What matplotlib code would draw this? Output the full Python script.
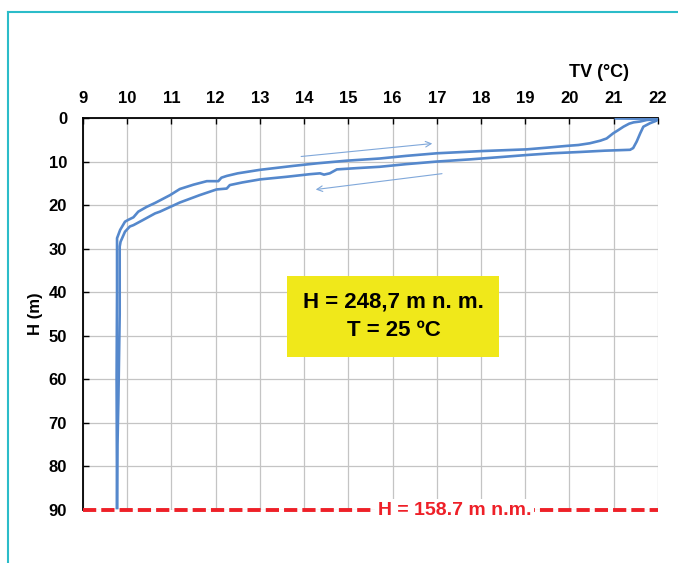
import matplotlib.pyplot as plt
from matplotlib.lines import Line2D

# temperature profile, first cast (surface -> bottom)
temp_down = [21.97, 21.75, 21.6, 21.45, 21.35, 21.22, 21.1, 20.99, 20.84, 20.7,
             20.58, 20.46, 20.2, 19.94, 19.5, 19.03, 18.0, 17.0, 16.3, 15.71,
             14.96, 14.3, 13.75, 13.0, 12.5, 12.25, 12.13, 12.06, 11.8, 11.5,
             11.19, 10.97, 10.63, 10.44, 10.25, 10.14, 10.02, 9.95, 9.84, 9.77,
             9.77, 9.76, 9.77]
depth_down = [0.3, 0.45, 0.8, 1.0, 1.3, 2.0, 2.8, 3.5, 4.7, 5.2,
              5.5, 5.8, 6.2, 6.4, 6.8, 7.2, 7.6, 8.1, 8.7, 9.3,
              9.8, 10.4, 11.0, 11.9, 12.7, 13.3, 13.7, 14.5, 14.5, 15.3,
              16.3, 17.7, 19.5, 20.4, 21.5, 22.8, 23.4, 23.8, 25.7, 27.6,
              40.0, 60.0, 89.5]

# second cast
temp_up = [21.05, 21.5, 22.0, 21.97, 21.82, 21.67, 21.6, 21.52, 21.44, 21.37,
           20.8, 20.24, 19.6, 19.03, 18.4, 17.75, 17.0, 16.3, 15.71, 15.2,
           14.74, 14.58, 14.45, 14.36, 14.13, 13.6, 13.0, 12.6, 12.32, 12.25,
           12.02, 11.64, 11.19, 10.74, 10.63, 10.36, 10.14, 10.06, 9.95, 9.85,
           9.83, 9.83, 9.8, 9.78, 9.77]
depth_up = [0.1, 0.15, 0.1, 0.6, 1.2, 2.0, 3.5, 5.4, 6.9, 7.3,
            7.5, 7.8, 8.1, 8.5, 9.0, 9.5, 10.0, 10.6, 11.2, 11.5,
            11.8, 12.7, 13.0, 12.7, 12.9, 13.5, 14.1, 14.8, 15.4, 16.2,
            16.4, 17.7, 19.4, 21.5, 21.9, 23.4, 24.6, 24.9, 26.1, 28.4,
            29.5, 45.0, 65.0, 75.0, 89.5]

x_ticks = list(range(9, 23))
y_ticks = list(range(0, 100, 10))

site_label = "H = 248,7 m n. m.\nT = 25 ºC"
bottom_label = "H = 158.7 m n.m."
bottom_depth = 90

plt.rcParams['font.family'] = ['Liberation Sans', 'DejaVu Sans']

fig = plt.figure(figsize=(6.78, 5.63), dpi=100)
ax = fig.add_axes([0.1224, 0.0941, 0.848, 0.6963])

line_col = "#5588cc"
ax.plot(temp_down, depth_down, color=line_col, lw=1.9, zorder=3)
ax.plot(temp_up, depth_up, color=line_col, lw=1.9, zorder=3)

# direction arrows
ax.annotate("", xy=(16.96, 5.8), xytext=(13.87, 8.9),
            arrowprops=dict(arrowstyle="->", color="#80a8da", lw=0.8))
ax.annotate("", xy=(14.2, 16.5), xytext=(17.18, 12.7),
            arrowprops=dict(arrowstyle="->", color="#80a8da", lw=0.8))

ax.set_xlim(9, 22)
ax.set_ylim(bottom_depth, 0)
ax.set_xticks(x_ticks)
ax.set_yticks(y_ticks)
ax.xaxis.tick_top()
ax.tick_params(axis="x", direction="in", length=4, width=1, labelsize=12,
               pad=9)
ax.tick_params(axis="y", direction="in", length=4, width=1, labelsize=12,
               pad=11.5)
for lab in ax.get_xticklabels() + ax.get_yticklabels():
    lab.set_fontweight("bold")
ax.grid(True, color="#c4c4c4", lw=0.9)
ax.set_axisbelow(True)
ax.spines["right"].set_visible(False)
ax.spines["bottom"].set_visible(False)
ax.spines["top"].set_linewidth(1.3)
ax.spines["left"].set_linewidth(1.3)

ax.set_ylabel("H (m)", fontsize=12, fontweight="bold", labelpad=4)
fig.text(0.883, 0.872, "TV (°C)", ha="center", va="center", fontsize=13,
         fontweight="bold")

# yellow info box
ax.text(16.02, 45.5, site_label, ha="center", va="center", fontsize=16,
        fontweight="bold", linespacing=1.5, zorder=5,
        bbox=dict(boxstyle="square,pad=0.7", facecolor="#f0e81a",
                  edgecolor="none"))

# bottom reference level
ax.plot([9, 22], [bottom_depth, bottom_depth], color="#ee2028", lw=2.8,
        ls=(0, (3.4, 1.3)), clip_on=False, zorder=4)
ax.text(17.4, bottom_depth, bottom_label, ha="center", va="center",
        fontsize=14, fontweight="bold", color="#ee2028", zorder=5,
        bbox=dict(boxstyle="square,pad=0.15", facecolor="white",
                  edgecolor="none"))

# teal page frame
teal = "#2bbcc9"
fig.add_artist(Line2D([0.0118, 0.0118], [0.0, 0.9787], color=teal, lw=1.5,
                      transform=fig.transFigure))
fig.add_artist(Line2D([0.0118, 1.0], [0.9787, 0.9787], color=teal, lw=1.5,
                      transform=fig.transFigure))

fig.savefig("out.png", dpi=100)
